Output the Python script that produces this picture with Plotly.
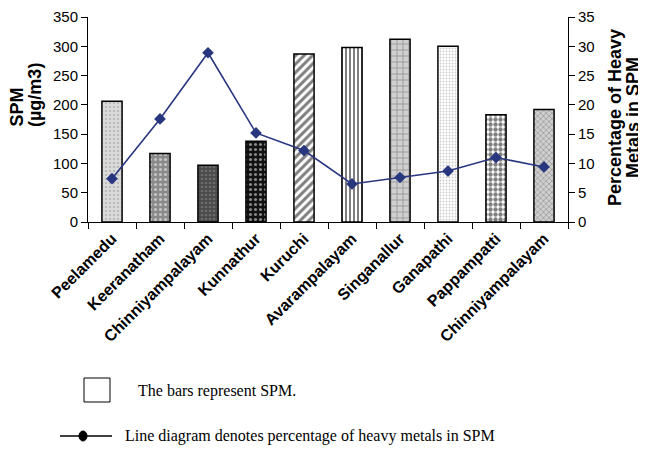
import plotly.graph_objects as go

sites = ["Peelamedu", "Keeranatham", "Chinniyampalayam", "Kunnathur", "Kuruchi",
         "Avarampalayam", "Singanallur", "Ganapathi", "Pappampatti", "Chinniyampalayam"]
spm = [206, 117, 97, 138, 287, 298, 312, 300, 183, 192]
heavy_pct = [7.4, 17.6, 28.9, 15.2, 12.2, 6.5, 7.6, 8.7, 11.0, 9.4]

left_ticks = [0, 50, 100, 150, 200, 250, 300, 350]
right_ticks = [0, 5, 10, 15, 20, 25, 30, 35]

cat_ids = [str(i + 1) for i in range(len(sites))]

shapes_p = [".", ".", ".", ".", "/", "|", "+", ".", ".", "x"]
bg = ["#dcdcdc", "#8a8a8a", "#4a4a4a", "#111111", "#ffffff", "#ffffff", "#d0d0d0", "#ffffff", "#ffffff", "#cfcfcf"]
fg = ["#9a9a9a", "#ffffff", "#8c8c8c", "#ffffff", "#000000", "#000000", "#555555", "#9a9a9a", "#000000", "#666666"]
psize = [4, 5, 4, 5, 6, 4, 6, 3, 5, 4]
solid = [0.35, 0.3, 0.35, 0.3, 0.5, 0.5, 0.25, 0.3, 0.6, 0.35]

fig = go.Figure()
for i in range(len(sites)):
    fig.add_trace(go.Bar(
        x=[cat_ids[i]], y=[spm[i]], width=0.42,
        marker=dict(color=bg[i], line=dict(color="black", width=1.5),
                    pattern=dict(shape=shapes_p[i], fgcolor=fg[i], size=psize[i],
                                 solidity=solid[i], fillmode="overlay")),
        showlegend=False,
    ))
fig.add_trace(go.Scatter(
    x=cat_ids, y=heavy_pct, yaxis="y2", mode="lines+markers",
    line=dict(color="#28367f", width=1.6),
    marker=dict(symbol="diamond", size=9, color="#28367f"),
    showlegend=False,
))

axis_font = dict(family="Liberation Sans, Arial", size=15, color="black")

# page body has an 8px margin: figure is 638x441 so it fills the 646x449 window
fig.update_layout(
    width=638, height=441,
    margin=dict(l=80, r=78, t=9, b=227),
    paper_bgcolor="white", plot_bgcolor="white",
    barmode="overlay",
    xaxis=dict(type="category", tickmode="array", tickvals=cat_ids, ticktext=sites,
               tickangle=-45, tickson="boundaries", ticks="outside", ticklen=6,
               tickcolor="black", showline=True, linecolor="black", linewidth=1,
               tickfont=dict(family="Liberation Sans, Arial", size=16, color="black", weight="bold"),
               range=[-0.5, 9.5], showgrid=False, automargin=False),
    yaxis=dict(range=[0, 350], tickvals=left_ticks, ticks="outside", ticklen=6,
               tickcolor="black", showline=True, linecolor="black", linewidth=1,
               showgrid=False, zeroline=False, tickfont=axis_font, automargin=False,
               ticklabeloverflow="allow"),
    yaxis2=dict(range=[0, 35], tickvals=right_ticks, overlaying="y", side="right",
                ticks="outside", ticklen=6, tickcolor="black", showline=True,
                linecolor="black", linewidth=1, showgrid=False, zeroline=False,
                tickfont=axis_font, automargin=False, ticklabeloverflow="allow"),
)

# helpers: screen pixel -> paper coordinates (plot area spans x 88..568, y 17..222)
def px2x(px):
    return (px - 88) / 480

def py2y(py):
    return (222 - py) / 205

bold_title = dict(family="Liberation Sans, Arial", size=18, color="black", weight="bold")
fig.add_annotation(text="SPM", xref="paper", yref="paper", x=px2x(16), y=py2y(129),
                   textangle=-90, showarrow=False, font=bold_title, xanchor="center", yanchor="bottom")
fig.add_annotation(text="(µg/m3)", xref="paper", yref="paper", x=px2x(35), y=py2y(129),
                   textangle=-90, showarrow=False, font=bold_title, xanchor="center", yanchor="bottom")
fig.add_annotation(text="Percentage of Heavy", xref="paper", yref="paper",
                   x=px2x(615), y=py2y(118), textangle=-90, showarrow=False, font=bold_title,
                   xanchor="center", yanchor="middle")
fig.add_annotation(text="Metals in SPM", xref="paper", yref="paper",
                   x=px2x(633), y=py2y(118), textangle=-90, showarrow=False, font=bold_title,
                   xanchor="center", yanchor="middle")

# custom legend at bottom
serif = dict(family="Liberation Serif, Times New Roman", size=16, color="black")
fig.add_shape(type="rect", xref="paper", yref="paper", x0=px2x(84), x1=px2x(110),
              y0=py2y(402), y1=py2y(378), line=dict(color="black", width=1), fillcolor="white")
fig.add_annotation(text="The bars represent SPM.", xref="paper", yref="paper",
                   x=px2x(136), y=py2y(391), xanchor="left", yanchor="middle",
                   showarrow=False, font=serif)
fig.add_shape(type="line", xref="paper", yref="paper", x0=px2x(60), x1=px2x(112),
              y0=py2y(436), y1=py2y(436), line=dict(color="black", width=1.5))
fig.add_shape(type="circle", xref="paper", yref="paper", x0=px2x(79), x1=px2x(87),
              y0=py2y(441), y1=py2y(431), line=dict(color="black", width=1), fillcolor="black")
fig.add_annotation(text="Line diagram denotes percentage of heavy metals in SPM", xref="paper",
                   yref="paper", x=px2x(123), y=py2y(436), xanchor="left", yanchor="middle",
                   showarrow=False, font=serif)

fig.write_html("out.html")
